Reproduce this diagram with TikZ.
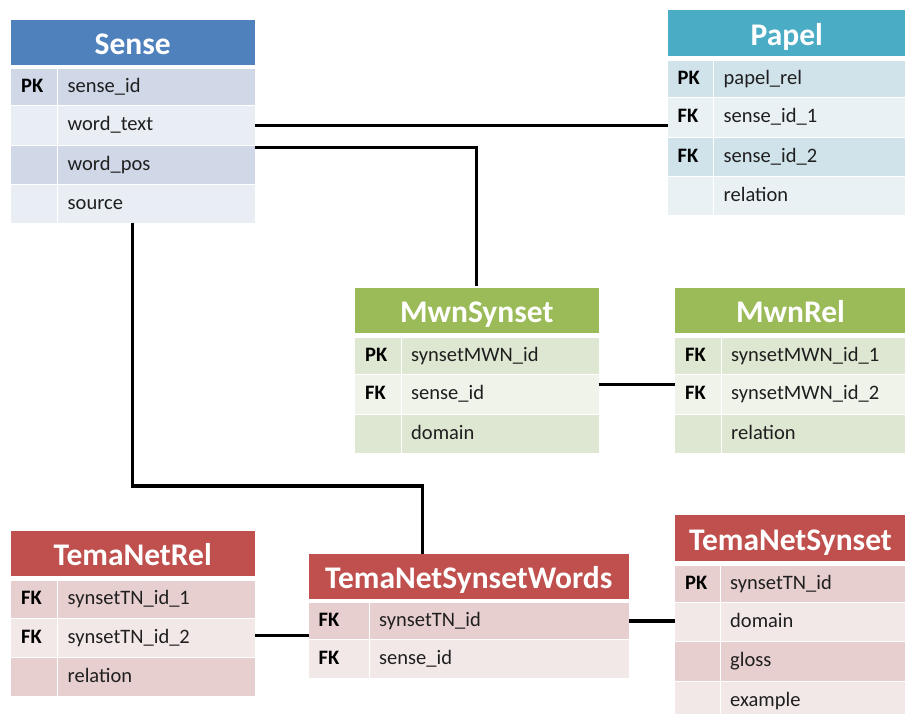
\documentclass[tikz,border=0pt]{standalone}
\usepackage{fontspec}
\setmainfont{Carlito}
\usetikzlibrary{calc}

% Office-style table colours
\definecolor{blueH}{HTML}{4F81BD}\definecolor{blueD}{HTML}{D0D8E8}\definecolor{blueL}{HTML}{E9EDF4}
\definecolor{aquaH}{HTML}{4BACC6}\definecolor{aquaD}{HTML}{D0E3EA}\definecolor{aquaL}{HTML}{E9F1F5}
\definecolor{grnH}{HTML}{9BBB59}\definecolor{grnD}{HTML}{DEE7D1}\definecolor{grnL}{HTML}{EFF3EA}
\definecolor{redH}{HTML}{C0504D}\definecolor{redD}{HTML}{E8CFCF}\definecolor{redL}{HTML}{F3E8E8}

\newcommand\hdrfont{\fontsize{31.5}{32}\selectfont\bfseries}
\newcommand\rowfont{\fontsize{20.5}{21}\selectfont}

\tikzset{
  cellbox/.style={draw=none, inner sep=0pt, outer sep=0pt, anchor=north west},
  hdrtext/.style={font=\hdrfont, text=white, anchor=base, inner sep=0pt},
  keytext/.style={font=\rowfont\bfseries, text=black, anchor=base west, inner sep=0pt},
  fldtext/.style={font=\rowfont, text=black!88, anchor=base west, inner sep=0pt},
  link/.style={line width=3.2pt, black},
}

% header: name, x1, x2, y1, y2, colour, title
\newcommand\erdhead[7]{%
  \node[cellbox, fill=#6, minimum width={(#3-#2)*1pt}, minimum height={(#5-#4)*1pt}] (#1) at (#2,#4) {};
  \node[hdrtext] (#1t) at ({(#2+#3)/2},{(#4+#5)/2+12}) {#7};}

% row: name, x1, xdiv, x2, y1, y2, colour, key, field
\newcommand\erdrow[9]{%
  \node[cellbox, fill=#7, minimum width={(#3-#2-0.5)*1pt}, minimum height={(#6-#5-1)*1pt}] (#1k) at (#2,{#5+0.5}) {};
  \node[cellbox, fill=#7, minimum width={(#4-#3-0.5)*1pt}, minimum height={(#6-#5-1)*1pt}] (#1) at ({#3+0.5},{#5+0.5}) {};
  \node[keytext] (#1kt) at ({#2+10},{(#5+#6)/2+5.5}) {#8};
  \node[fldtext] (#1t) at ({#3+10},{(#5+#6)/2+5.5}) {#9};}

\begin{document}
\begin{tikzpicture}[x=1pt,y=-1pt]
\useasboundingbox (0,0) rectangle (905,713);
\clip (0,0) rectangle (905,713);
\fill[white] (0,0) rectangle (905,713);

% Sense
\erdhead{sense}{11}{254.5}{19.5}{64.5}{blueH}{Sense}
\erdrow{sense1}{11}{57.5}{254.5}{68.5}{105.5}{blueD}{PK}{sense\_id}
\erdrow{sense2}{11}{57.5}{254.5}{105.5}{145}{blueL}{}{word\_text}
\erdrow{sense3}{11}{57.5}{254.5}{145}{184}{blueD}{}{word\_pos}
\erdrow{sense4}{11}{57.5}{254.5}{184}{223}{blueL}{}{source}

% Papel
\erdhead{papel}{667.5}{906}{10}{56}{aquaH}{Papel}
\erdrow{papel1}{667.5}{713.5}{906}{60}{97.5}{aquaD}{PK}{papel\_rel}
\erdrow{papel2}{667.5}{713.5}{906}{97.5}{137}{aquaL}{FK}{sense\_id\_1}
\erdrow{papel3}{667.5}{713.5}{906}{137}{176}{aquaD}{FK}{sense\_id\_2}
\erdrow{papel4}{667.5}{713.5}{906}{176}{215}{aquaL}{}{relation}

% MwnSynset
\erdhead{mwns}{355}{598.5}{287.5}{333}{grnH}{MwnSynset}
\erdrow{mwns1}{355}{401}{598.5}{337}{374.5}{grnD}{PK}{synsetMWN\_id}
\erdrow{mwns2}{355}{401}{598.5}{374.5}{414}{grnL}{FK}{sense\_id}
\erdrow{mwns3}{355}{401}{598.5}{414}{453}{grnD}{}{domain}

% MwnRel
\erdhead{mwnr}{675}{906}{287.5}{333}{grnH}{MwnRel}
\erdrow{mwnr1}{675}{721}{906}{337}{374.5}{grnD}{FK}{synsetMWN\_id\_1}
\erdrow{mwnr2}{675}{721}{906}{374.5}{414}{grnL}{FK}{synsetMWN\_id\_2}
\erdrow{mwnr3}{675}{721}{906}{414}{453}{grnD}{}{relation}

% TemaNetRel
\erdhead{tnrel}{11}{254.5}{531}{576}{redH}{TemaNetRel}
\erdrow{tnrel1}{11}{57.5}{254.5}{580}{618.5}{redD}{FK}{synsetTN\_id\_1}
\erdrow{tnrel2}{11}{57.5}{254.5}{618.5}{657}{redL}{FK}{synsetTN\_id\_2}
\erdrow{tnrel3}{11}{57.5}{254.5}{657}{696}{redD}{}{relation}

% TemaNetSynsetWords
\erdhead{tnsw}{308.5}{629}{553.5}{599}{redH}{TemaNetSynsetWords}
\erdrow{tnsw1}{308.5}{369}{629}{602.5}{639.5}{redD}{FK}{synsetTN\_id}
\erdrow{tnsw2}{308.5}{369}{629}{639.5}{678.5}{redL}{FK}{sense\_id}

% TemaNetSynset
\erdhead{tns}{675}{906}{515}{561}{redH}{TemaNetSynset}
\erdrow{tns1}{675}{720}{906}{565}{602.5}{redD}{PK}{synsetTN\_id}
\erdrow{tns2}{675}{720}{906}{602.5}{641.5}{redL}{}{domain}
\erdrow{tns3}{675}{720}{906}{641.5}{681}{redD}{}{gloss}
\erdrow{tns4}{675}{720}{906}{681}{720}{redL}{}{example}

% relationships
\coordinate (srcbendA) at (132.5,486);
\coordinate (srcbendB) at (422.5,486);
\draw[link] (sense2.east) -- (sense2.east -| papel2k.west);
\draw[link] ([yshift=-2pt]sense3.north east) -| ([yshift=2pt]mwns.north);
\draw[link] (srcbendA |- sense4.south) -- (srcbendA) -- (srcbendB) -- (srcbendB |- tnsw.north);
\draw[link] ([yshift=10pt]mwns2.east) -- ([yshift=10pt]mwns2.east -| mwnr2k.west);
\draw[link] ([yshift=2pt]tnrel2.east) -- ([yshift=2pt]tnrel2.east -| tnsw.west);
\draw[link] (tnsw1.east) -- (tnsw1.east -| tns2k.west);
\end{tikzpicture}
\end{document}
